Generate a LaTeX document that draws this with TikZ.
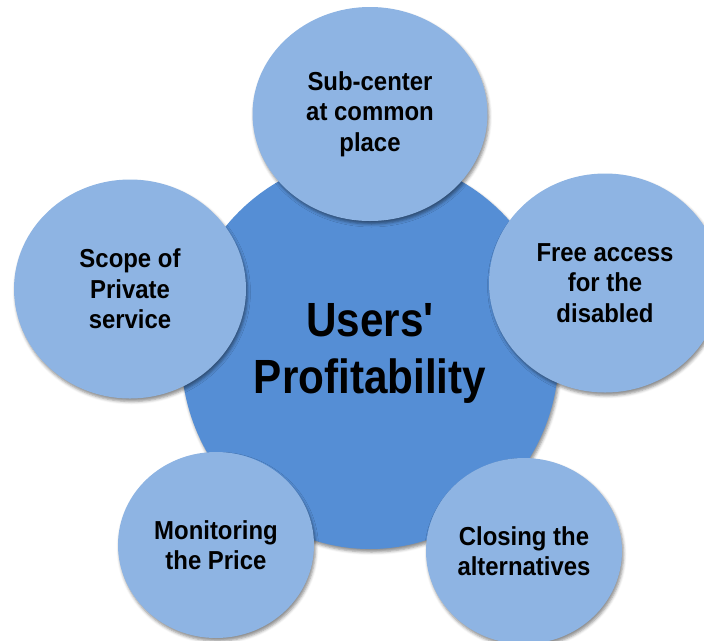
\documentclass[tikz,border=0pt]{standalone}
\usepackage{fontspec}
\newfontfamily\petalfont{Liberation Sans}[FakeStretch=0.92]
\newfontfamily\hubfont{Liberation Sans}[FakeStretch=0.88]
\usetikzlibrary{shapes.geometric,shadows.blur}
\definecolor{hubblue}{HTML}{558ED5}
\definecolor{petalblue}{HTML}{8EB4E3}
\begin{document}
\begin{tikzpicture}[x=1pt, y=-1pt,
    softshadow/.style={blur shadow={shadow xshift=1.5pt, shadow yshift=-3pt,
        shadow blur radius=3pt, shadow opacity=45}},
    hub/.style={ellipse, fill=hubblue, inner sep=0pt, align=center,
        minimum width=378pt, minimum height=392pt, softshadow,
        font=\hubfont\bfseries\fontsize{48}{57}\selectfont},
    petal/.style={ellipse, fill=petalblue, inner sep=0pt, align=center,
        softshadow, font=\petalfont\bfseries\fontsize{26}{30.5}\selectfont},
    bigpetal/.style={minimum width=232pt, minimum height=219pt},
    smallpetal/.style={minimum width=196pt, minimum height=186pt}]
    \useasboundingbox (0,0) rectangle (704,640);

    % Central circle
    \node[hub] (users) at (370,353) {Users'\\Profitability};

    % Surrounding circles
    \node[petal, minimum width=235pt, minimum height=214pt] (subcenter) at (370,114) {Sub-center\\at common\\place};
    \node[petal, bigpetal] (freeaccess) at (605,283) {Free access\\for the\\disabled};
    \node[petal, bigpetal] (scope) at (130,289) {Scope of\\Private\\service};
    \node[petal, smallpetal] (monitoring) at (216,545) {Monitoring\\the Price};
    \node[petal, smallpetal] (closing) at (524,551) {Closing the\\alternatives};
\end{tikzpicture}
\end{document}
